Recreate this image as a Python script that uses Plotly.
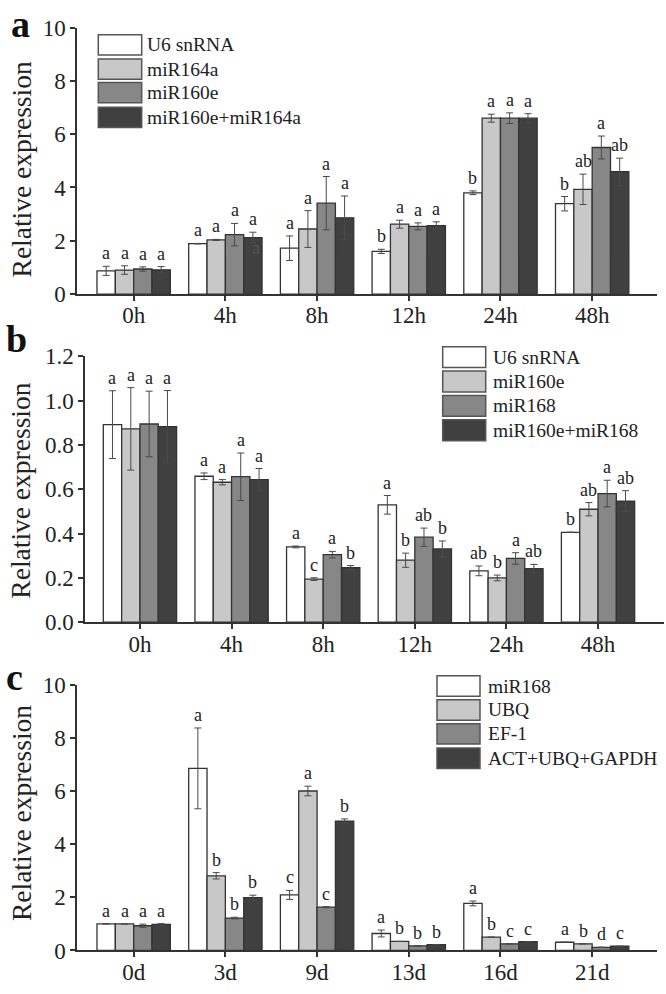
import plotly.graph_objects as go

# ---------------- data ----------------
cats_a = ["0h", "4h", "8h", "12h", "24h", "48h"]
names_a = ["U6 snRNA", "miR164a", "miR160e", "miR160e+miR164a"]
a_u6 = [0.87, 1.89, 1.72, 1.60, 3.80, 3.39]
a_u6_err = [0.17, 0.01, 0.46, 0.08, 0.07, 0.27]
a_164 = [0.90, 2.03, 2.44, 2.62, 6.60, 3.93]
a_164_err = [0.16, 0.02, 0.69, 0.15, 0.15, 0.57]
a_160 = [0.94, 2.23, 3.41, 2.54, 6.60, 5.50]
a_160_err = [0.08, 0.42, 1.00, 0.13, 0.20, 0.43]
a_combo = [0.91, 2.12, 2.86, 2.57, 6.60, 4.59]
a_combo_err = [0.12, 0.20, 0.82, 0.14, 0.17, 0.51]
a_u6_lab = ["a", "a", "a", "b", "b", "b"]
a_164_lab = ["a", "a", "a", "a", "a", "ab"]
a_160_lab = ["a", "a", "a", "a", "a", "a"]
a_combo_lab = ["a", "a", "a", "a", "a", "ab"]

cats_b = ["0h", "4h", "8h", "12h", "24h", "48h"]
names_b = ["U6 snRNA", "miR160e", "miR168", "miR160e+miR168"]
b_u6 = [0.892, 0.659, 0.340, 0.530, 0.232, 0.406]
b_u6_err = [0.153, 0.015, 0.004, 0.042, 0.022, 0.0]
b_160 = [0.873, 0.632, 0.195, 0.280, 0.200, 0.510]
b_160_err = [0.186, 0.012, 0.006, 0.032, 0.013, 0.030]
b_168 = [0.895, 0.657, 0.305, 0.384, 0.288, 0.581]
b_168_err = [0.148, 0.107, 0.015, 0.041, 0.026, 0.060]
b_combo = [0.883, 0.644, 0.246, 0.331, 0.242, 0.547]
b_combo_err = [0.163, 0.050, 0.010, 0.036, 0.019, 0.047]
b_u6_lab = ["a", "a", "a", "a", "ab", "b"]
b_160_lab = ["a", "a", "c", "b", "b", "ab"]
b_168_lab = ["a", "a", "a", "ab", "a", "a"]
b_combo_lab = ["a", "a", "b", "b", "ab", "ab"]

cats_c = ["0d", "3d", "9d", "13d", "16d", "21d"]
names_c = ["miR168", "UBQ", "EF-1", "ACT+UBQ+GAPDH"]
c_168 = [1.00, 6.85, 2.09, 0.64, 1.77, 0.31]
c_168_err = [0.0, 1.52, 0.17, 0.13, 0.09, 0.0]
c_ubq = [1.00, 2.81, 6.00, 0.34, 0.50, 0.25]
c_ubq_err = [0.0, 0.12, 0.18, 0.0, 0.0, 0.0]
c_ef = [0.93, 1.22, 1.63, 0.17, 0.25, 0.12]
c_ef_err = [0.06, 0.03, 0.02, 0.0, 0.0, 0.0]
c_act = [0.98, 1.99, 4.87, 0.22, 0.33, 0.16]
c_act_err = [0.03, 0.09, 0.08, 0.0, 0.0, 0.0]
c_168_lab = ["a", "a", "c", "a", "a", "a"]
c_ubq_lab = ["a", "b", "a", "b", "b", "b"]
c_ef_lab = ["a", "b", "c", "b", "c", "d"]
c_act_lab = ["a", "b", "b", "b", "c", "c"]

# stray duplicate letter printed in panel a (4h, combined bar)
a_extra_label = {"cat": 1, "offset": 0.33, "y": 1.72, "text": "a"}

# ---------------- style ----------------
W, H = 666, 994
FONT = "Liberation Serif"
fills = ["#ffffff", "#c8c8c8", "#878787", "#404040"]
edge = "#333333"
offsets = [-0.3, -0.1, 0.1, 0.3]


def px_x(p):
    return p / W


def px_y(p):
    return 1 - p / H


fig = go.Figure()
annotations = []
shapes = []

panels = [
    dict(cats=cats_a, names=names_a, vals=[a_u6, a_164, a_160, a_combo],
         errs=[a_u6_err, a_164_err, a_160_err, a_combo_err],
         labs=[a_u6_lab, a_164_lab, a_160_lab, a_combo_lab], ax=""),
    dict(cats=cats_b, names=names_b, vals=[b_u6, b_160, b_168, b_combo],
         errs=[b_u6_err, b_160_err, b_168_err, b_combo_err],
         labs=[b_u6_lab, b_160_lab, b_168_lab, b_combo_lab], ax="2"),
    dict(cats=cats_c, names=names_c, vals=[c_168, c_ubq, c_ef, c_act],
         errs=[c_168_err, c_ubq_err, c_ef_err, c_act_err],
         labs=[c_168_lab, c_ubq_lab, c_ef_lab, c_act_lab], ax="3"),
]

for p in panels:
    for k in range(4):
        fig.add_trace(go.Bar(
            x=p["cats"], y=p["vals"][k], name=p["names"][k],
            xaxis="x" + p["ax"], yaxis="y" + p["ax"],
            marker=dict(color=fills[k], line=dict(color=edge, width=1.3)),
            error_y=dict(type="data", array=p["errs"][k], visible=True,
                         color="#4a4a4a", thickness=1, width=3.5),
            showlegend=False,
        ))
        for i in range(len(p["cats"])):
            annotations.append(dict(
                x=i + offsets[k], y=p["vals"][k][i] + p["errs"][k][i],
                xref="x" + p["ax"], yref="y" + p["ax"],
                text=p["labs"][k][i], showarrow=False,
                yanchor="bottom", xanchor="center", yshift=1,
                font=dict(family=FONT, size=18, color="#222"),
            ))

annotations.append(dict(
    x=a_extra_label["cat"] + a_extra_label["offset"], y=a_extra_label["y"],
    xref="x", yref="y", text=a_extra_label["text"], showarrow=False,
    yanchor="middle", xanchor="center",
    font=dict(family=FONT, size=18, color="#555"),
))

# legends drawn as swatches + text
legend_specs = [
    (names_a, 98.3, 141.7, 145.0, [23.3, 48.3, 72.3, 97.7], 20.8),
    (names_b, 442.7, 485.7, 491.0, [343.3, 368.3, 393.3, 418.3], 21.5),
    (names_c, 437.0, 480.0, 486.0, [681.0, 705.5, 730.0, 755.0], 21.0),
]
for names, x0, x1, xt, tops, h in legend_specs:
    for k, nm in enumerate(names):
        shapes.append(dict(type="rect", xref="paper", yref="paper",
                           x0=px_x(x0), x1=px_x(x1),
                           y0=px_y(tops[k] + h), y1=px_y(tops[k]),
                           fillcolor=fills[k], line=dict(color="#555", width=1.5)))
        annotations.append(dict(x=px_x(xt), y=px_y(tops[k] + h / 2),
                                xref="paper", yref="paper", text=nm,
                                showarrow=False, xanchor="left", yanchor="middle",
                                font=dict(family=FONT, size=19.5, color="#222")))

# panel letters
for txt, xc, yc in [("a", 21, 12), ("b", 16, 335), ("c", 14, 682)]:
    annotations.append(dict(x=px_x(xc), y=px_y(yc), xref="paper", yref="paper",
                            text="<b>%s</b>" % txt, showarrow=False,
                            xanchor="center", yanchor="middle",
                            font=dict(family=FONT, size=38, color="#111")))

# y titles
for yc in [161.5, 491.0, 821.7]:
    annotations.append(dict(x=px_x(21), y=px_y(yc), xref="paper", yref="paper",
                            text="Relative expression", textangle=-90,
                            showarrow=False, xanchor="center", yanchor="middle",
                            font=dict(family=FONT, size=27.5, color="#222")))

axis_common = dict(showline=True, linecolor="#333", linewidth=1.5,
                   ticks="outside", ticklen=5, tickwidth=1.5, tickcolor="#333",
                   showgrid=False, zeroline=False,
                   tickfont=dict(family=FONT, size=23, color="#222"))

fig.update_layout(
    width=W, height=H,
    margin=dict(l=0, r=0, t=0, b=0),
    paper_bgcolor="white", plot_bgcolor="white",
    font=dict(family=FONT),
    barmode="group", bargap=0.2, bargroupgap=0,
    xaxis=dict(domain=[px_x(77), px_x(657)], anchor="y", type="category",
               range=[-0.618, 5.707], ticklabelstandoff=-5, **axis_common),
    yaxis=dict(domain=[px_y(289.3), px_y(16)], anchor="x", range=[0, 10],
               dtick=2, **axis_common),
    xaxis2=dict(domain=[px_x(85), px_x(664)], anchor="y2", type="category",
                range=[-0.600, 5.72], ticklabelstandoff=-5, **axis_common),
    yaxis2=dict(domain=[px_y(626), px_y(353.3)], anchor="x2", range=[0, 1.2],
                dtick=0.2, tickformat=".1f", **axis_common),
    xaxis3=dict(domain=[px_x(77), px_x(657)], anchor="y3", type="category",
                range=[-0.618, 5.707], ticklabelstandoff=-5, **axis_common),
    yaxis3=dict(domain=[px_y(962.7), px_y(690)], anchor="x3", range=[0, 10],
                dtick=2, **axis_common),
    annotations=annotations,
    shapes=shapes,
    showlegend=False,
)

fig.write_html(
    "out.html",
    config={"displayModeBar": False},
    post_script="document.body.style.margin='0';document.body.style.overflow='hidden';",
)
